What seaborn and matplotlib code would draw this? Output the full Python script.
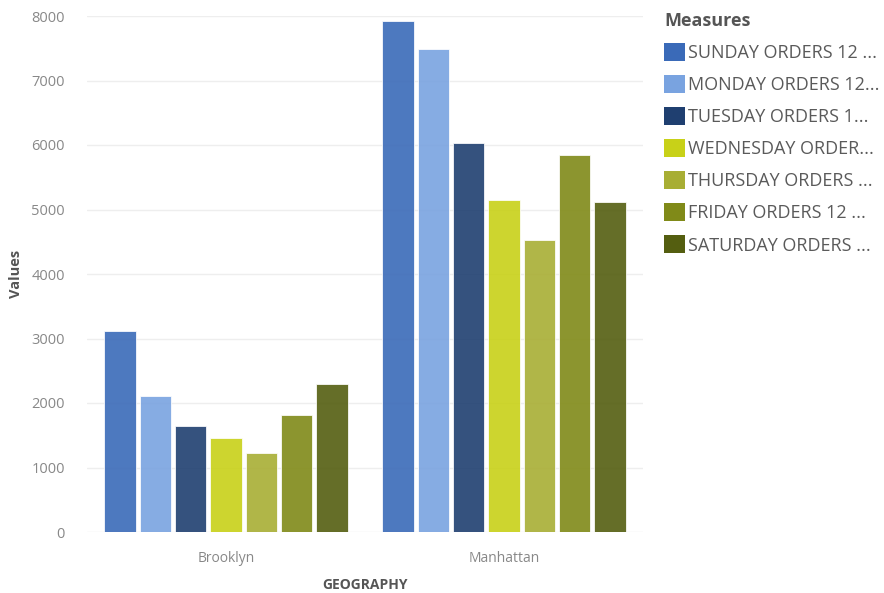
import matplotlib
matplotlib.use("Agg")
import matplotlib.pyplot as plt
import seaborn as sns
import pandas as pd
from matplotlib.patches import Patch

geography = ["Brooklyn", "Manhattan"]
measures = ["SUNDAY ORDERS 12 ...", "MONDAY ORDERS 12...", "TUESDAY ORDERS 1...",
            "WEDNESDAY ORDER...", "THURSDAY ORDERS ...", "FRIDAY ORDERS 12 ...",
            "SATURDAY ORDERS ..."]
brooklyn = [3120, 2110, 1650, 1460, 1230, 1820, 2300]
manhattan = [7920, 7490, 6030, 5150, 4530, 5850, 5120]
colors = ["#3a6ab8", "#79a3e0", "#1f3f70", "#c8d118", "#a8ae34", "#808a18", "#545e10"]

rows = []
for g, vals in zip(geography, [brooklyn, manhattan]):
    for m, v in zip(measures, vals):
        rows.append({"GEOGRAPHY": g, "Measure": m, "Values": v})
df = pd.DataFrame(rows)

sns.set_theme(style="white")
plt.rcParams['font.family'] = ['Open Sans', 'DejaVu Sans']

fig = plt.figure(figsize=(8.84, 5.93), dpi=100)
ax = fig.add_axes([87/884, 1-532/593, (643-87)/884, (532-16)/593])

sns.barplot(data=df, x="GEOGRAPHY", y="Values", hue="Measure", hue_order=measures,
            palette=colors, saturation=1, width=0.89, gap=0.11, alpha=0.9,
            edgecolor="#ffffff", linewidth=0.6, ax=ax, legend=False)

ax.set_xlim(-0.5, 1.5)
ax.set_ylim(0, 8000)
ax.set_yticks(range(0, 8001, 1000))
ax.yaxis.grid(True, color="#eeeeee", linewidth=1)
ax.set_axisbelow(True)
for s in ax.spines.values():
    s.set_visible(False)
ax.tick_params(axis="y", length=0, colors="#888888", labelsize=10.5, pad=16)
ax.tick_params(axis="x", length=0, colors="#888888", labelsize=10, pad=14)
ax.set_ylabel("Values", fontsize=10.5, fontweight="bold", color="#555555", labelpad=6)
ax.set_xlabel("GEOGRAPHY", fontsize=10, fontweight="bold", color="#555555", labelpad=8)

handles = [Patch(facecolor=c, edgecolor="none") for c in colors]
leg = fig.legend(handles, measures, title="Measures", loc="upper left",
                 bbox_to_anchor=(664/884, 1-12/593), frameon=False, borderpad=0,
                 borderaxespad=0,
                 fontsize=13, handlelength=1.15, handleheight=1.15, handletextpad=0.2,
                 labelspacing=0.72, alignment="left")
leg.get_title().set_fontweight("bold")
leg.get_title().set_fontsize(13)
leg.get_title().set_color("#555555")
for t in leg.get_texts():
    t.set_color("#5a5a5a")

fig.savefig("out.png", dpi=100)
